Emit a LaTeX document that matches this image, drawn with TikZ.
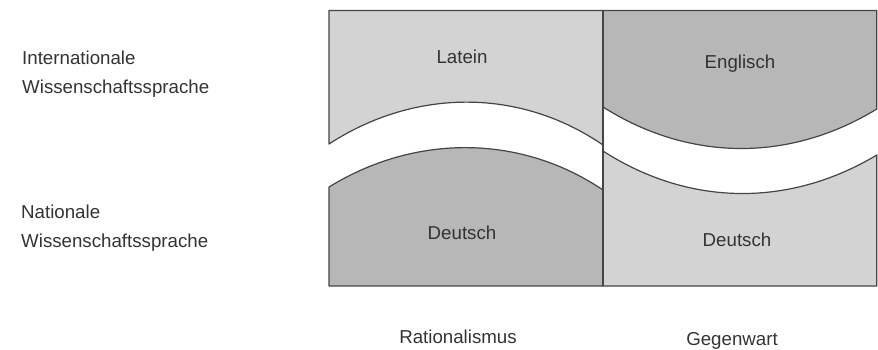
\documentclass[tikz,border=0pt]{standalone}
\usepackage{fontspec}
\setmainfont{Liberation Sans}
\usepackage{xcolor}
\usepackage{tikz}
\usetikzlibrary{positioning}
\definecolor{ink}{HTML}{333333}
\definecolor{edge}{HTML}{454545}
\definecolor{pale}{HTML}{D3D3D3}
\definecolor{dark}{HTML}{B7B7B7}

\begin{document}
\begin{tikzpicture}[x=1pt,y=-1pt,
    area/.style={draw=edge, line width=1.2pt, line join=round},
    lbl/.style={text=ink, font=\fontsize{18.7}{22}\selectfont,
                inner sep=0pt, anchor=base},
    side/.style={lbl, anchor=base west},
]
\useasboundingbox (0,0) rectangle (878,349);

\filldraw[area,fill=pale] (329,10.5) -- (603,10.5) -- (603,145)
    .. controls (520,88) and (415,88) .. (329,144) -- cycle;
\filldraw[area,fill=dark] (329,187) .. controls (415,134) and (520,134) .. (603,190)
    -- (603,286) -- (329,286) -- cycle;
\filldraw[area,fill=dark] (603,10.5) -- (876.8,10.5) -- (876.8,109)
    .. controls (790,162) and (690,162) .. (603,107) -- cycle;
\filldraw[area,fill=pale] (603,151) .. controls (690,207) and (790,207) .. (876.8,155)
    -- (876.8,286) -- (603,286) -- cycle;
\draw[area] (603,10.5) -- (603,286);

\node[lbl] (latein) at (462,63) {Latein};
\node[lbl] (englisch) at (740,68) {Englisch};
\node[lbl] (deutschA) at (462,239) {Deutsch};
\node[lbl] (deutschB) at (737,246) {Deutsch};
\node[lbl] (ratio) at (458,343) {Rationalismus};
\node[lbl] (heute) at (732,345) {Gegenwart};

\node[side] (intl) at (22,64) {Internationale};
\node[side] (intlB) at (22,93) {Wissenschaftssprache};
\node[side] (natl) at (21,218) {Nationale};
\node[side] (natlB) at (21,247) {Wissenschaftssprache};

\end{tikzpicture}
\end{document}
